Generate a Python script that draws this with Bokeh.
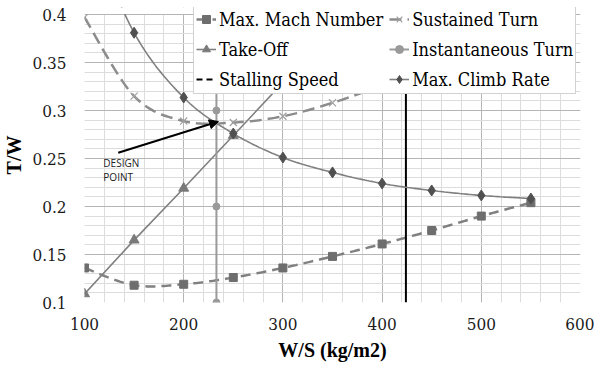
import numpy as np
from bokeh.plotting import figure
from bokeh.models import (Legend, LegendItem, SingleIntervalTicker, Arrow, NormalHead,
                          Label, Range1d, CustomJSTickFormatter, BoxAnnotation)
from bokeh.embed import file_html
from bokeh.resources import INLINE

# ---- data ----
ws = [100, 150, 200, 250, 300, 350, 400, 450, 500, 550]
mach = [0.136, 0.118, 0.119, 0.126, 0.136, 0.148, 0.161, 0.175, 0.190, 0.204]

takeoff_ws = [100, 150, 200, 250, 300, 350, 400]
takeoff = [0.109, 0.165, 0.219, 0.274, 0.329, 0.384, 0.439]

sustained_ws = [100, 150, 200, 250, 300, 350, 400]
sustained = [0.397, 0.315, 0.289, 0.2875, 0.294, 0.308, 0.326]

inst_ws = [233, 233, 233, 233]
inst = [0.1, 0.2, 0.3, 0.4]

stall_ws = [424, 424, 424, 424]
stall = [0.1, 0.2, 0.3, 0.4]

climb_ws = [100, 150, 200, 250, 300, 350, 400, 450, 500, 550]
climb = [0.5, 0.381, 0.3135, 0.276, 0.251, 0.2355, 0.224, 0.2167, 0.2115, 0.2083]

design_text = ["DESIGN", "POINT"]
design_text_pos = [(119, 0.2458), (119, 0.231)]
design_arrow_from = (134, 0.256)
design_arrow_to = (235, 0.2885)

Y_MIN, Y_MAX = 0.1, 0.4


def smooth(xs, ys, n=24):
    """Excel-style smoothed line (Bezier through the points)."""
    x = np.asarray(xs, float); y = np.asarray(ys, float)
    px = np.concatenate([[x[0]], x, [x[-1]]]); py = np.concatenate([[y[0]], y, [y[-1]]])
    ox, oy = [], []
    t = np.linspace(0, 1, n)
    for i in range(len(x) - 1):
        p0 = np.array([px[i + 1], py[i + 1]]); p3 = np.array([px[i + 2], py[i + 2]])
        p1 = p0 + (np.array([px[i + 2], py[i + 2]]) - np.array([px[i], py[i]])) / 6
        p2 = p3 - (np.array([px[i + 3], py[i + 3]]) - np.array([px[i + 1], py[i + 1]])) / 6
        b = ((1 - t) ** 3)[:, None] * p0 + (3 * (1 - t) ** 2 * t)[:, None] * p1 + \
            (3 * (1 - t) * t ** 2)[:, None] * p2 + (t ** 3)[:, None] * p3
        ox.extend(b[:, 0]); oy.extend(b[:, 1])
    return ox, oy


SERIF_BOLD = "Liberation Serif"
SERIF = "DejaVu Serif Condensed"
EXTRA_PX = 7                      # headroom above 0.4 so the legend sits inside the frame
FRAME_H = 288
y_top = Y_MAX + (Y_MAX - Y_MIN) * EXTRA_PX / FRAME_H

p = figure(frame_width=496, frame_height=FRAME_H + EXTRA_PX, x_range=Range1d(100, 600),
           y_range=Range1d(Y_MIN, y_top),
           output_backend="svg", toolbar_location=None,
           min_border_left=76, min_border_right=14, min_border_top=7, min_border_bottom=50)
p.outline_line_color = None
p.background_fill_color = "white"

xt = SingleIntervalTicker(interval=100, num_minor_ticks=5)
yt = SingleIntervalTicker(interval=0.05, num_minor_ticks=5)
p.xaxis.ticker = xt
p.yaxis.ticker = yt
p.xgrid.ticker = xt
p.ygrid.ticker = yt
for g in (p.xgrid, p.ygrid):
    g.grid_line_color = "#b5b5b5"
    g.grid_line_width = 1
    g.minor_grid_line_color = "#dcdcdc"
    g.minor_grid_line_width = 1

for ax in (p.xaxis, p.yaxis):
    ax.axis_line_color = None
    ax.major_tick_line_color = None
    ax.minor_tick_line_color = None
    ax.major_tick_out = 0
    ax.minor_tick_out = 0
    ax.major_label_text_font = SERIF
    ax.major_label_text_font_size = "17px"
    ax.major_label_text_color = "#1a1a1a"
    ax.axis_label_text_font = SERIF_BOLD
    ax.axis_label_text_font_size = "20px"
    ax.axis_label_text_font_style = "bold"
    ax.axis_label_text_color = "black"
p.yaxis.formatter = CustomJSTickFormatter(code="return Number(tick.toFixed(2)).toString();")
p.xaxis.axis_label = "W/S (kg/m2)"
p.yaxis.axis_label = "T/W"
p.xaxis.major_label_standoff = 15
p.yaxis.major_label_standoff = 18
p.xaxis.axis_label_standoff = 6
p.yaxis.axis_label_standoff = 4

GREY = "#808080"

# Max. Mach Number
sx, sy = smooth(ws, mach)
r_mach_l = p.line(sx, sy, line_color=GREY, line_width=2.5, line_dash="10 6")
r_mach_m = p.scatter(ws, mach, marker="square", size=8, fill_color="#6e6e6e", line_color="#6e6e6e")

# Take-Off
r_to_l = p.line(takeoff_ws, takeoff, line_color=GREY, line_width=1.6)
r_to_m = p.scatter(takeoff_ws, takeoff, marker="triangle", size=10, fill_color="#7a7a7a", line_color="#7a7a7a")

# Stalling speed
p.line(stall_ws, stall, line_color="black", line_width=2)
r_stall_leg = p.line([np.nan, np.nan], [np.nan, np.nan], line_color="black", line_width=2, line_dash="6 4")

# Sustained Turn
sx, sy = smooth(sustained_ws, sustained)
r_st_l = p.line(sx, sy, line_color="#8c8c8c", line_width=2.5, line_dash="12 6")
r_st_m = p.scatter(sustained_ws, sustained, marker="x", size=10, line_color="#a0a0a0", line_width=1.2)

# Instantaneous Turn
r_it_l = p.line(inst_ws, inst, line_color="#9a9a9a", line_width=2)
r_it_m = p.scatter(inst_ws, inst, marker="circle", size=7, fill_color="#9a9a9a", line_color="#9a9a9a")

# Max. Climb Rate
sx, sy = smooth(climb_ws, climb)
r_cr_l = p.line(sx, sy, line_color=GREY, line_width=1.6)
r_cr_m = p.scatter(climb_ws, climb, marker="diamond", size=11, fill_color="#505050", line_color="#505050")

# mask the headroom above the axis maximum (the chart is clipped at 0.4)
p.add_layout(BoxAnnotation(bottom=Y_MAX + 0.0006, fill_color="white", fill_alpha=1, line_color=None))

# design point annotation
p.add_layout(Arrow(end=NormalHead(size=9, fill_color="black", line_color="black"),
                   x_start=design_arrow_from[0], y_start=design_arrow_from[1],
                   x_end=design_arrow_to[0], y_end=design_arrow_to[1],
                   line_color="black", line_width=2))
for txt, (tx, ty) in zip(design_text, design_text_pos):
    p.add_layout(Label(x=tx, y=ty, text=txt, text_font="Open Sans",
                       text_font_size="10px", text_color="#222222", text_baseline="middle"))

legend = Legend(items=[
    LegendItem(label="Max. Mach Number", renderers=[r_mach_l, r_mach_m]),
    LegendItem(label="Take-Off", renderers=[r_to_l, r_to_m]),
    LegendItem(label="Stalling Speed", renderers=[r_stall_leg]),
    LegendItem(label="Sustained Turn", renderers=[r_st_l, r_st_m]),
    LegendItem(label="Instantaneous Turn", renderers=[r_it_l, r_it_m]),
    LegendItem(label="Max. Climb Rate", renderers=[r_cr_l, r_cr_m]),
], location=(109, 208), orientation="vertical", nrows=3)
legend.label_text_font = SERIF
legend.label_text_font_size = "18px"
legend.label_text_color = "black"
legend.glyph_width = 20
legend.glyph_height = 24
legend.label_height = 24
legend.spacing = 6
legend.padding = 2
legend.margin = 0
legend.label_standoff = 3
legend.border_line_color = "#a6a6a6"
legend.border_line_width = 1
legend.background_fill_color = "white"
legend.background_fill_alpha = 1
p.add_layout(legend)

open("out.html", "w").write(file_html(p, INLINE))
